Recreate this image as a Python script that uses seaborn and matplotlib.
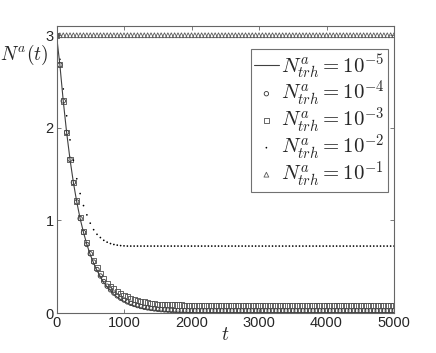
import numpy as np
import pandas as pd
import matplotlib
matplotlib.use('Agg')
import matplotlib.pyplot as plt
import seaborn as sns

# tempo (amostrado a cada 50)
t = np.arange(0, 5001, 50)

# N^a(t), para cada limiar
n_1e5 = [3.00, 2.68, 2.29, 1.95, 1.66, 1.41, 1.20, 1.02, 0.87, 0.74, 0.63, 0.54, 0.46, 0.39,
         0.33, 0.28, 0.24, 0.20, 0.17, 0.145, 0.125, 0.105, 0.09, 0.077, 0.065, 0.055, 0.047,
         0.04, 0.034, 0.029, 0.025, 0.021, 0.018, 0.015, 0.013, 0.011, 0.009, 0.008, 0.007,
         0.006, 0.005] + [0.004] * 60
n_1e4 = [3.00, 2.68, 2.29, 1.95, 1.66, 1.41, 1.20, 1.02, 0.87, 0.74, 0.64, 0.55, 0.47, 0.40,
         0.34, 0.29, 0.25, 0.215, 0.185, 0.16, 0.14, 0.12, 0.105, 0.092, 0.08, 0.07, 0.062,
         0.055, 0.049, 0.044, 0.04, 0.036, 0.033, 0.031, 0.029, 0.027, 0.026, 0.025, 0.024,
         0.023, 0.022] + [0.022] * 60
n_1e3 = [3.00, 2.68, 2.29, 1.95, 1.66, 1.41, 1.21, 1.03, 0.88, 0.76, 0.65, 0.57, 0.49, 0.43,
         0.37, 0.32, 0.29, 0.26, 0.23, 0.21, 0.19, 0.175, 0.16, 0.147, 0.136, 0.126, 0.118,
         0.111, 0.105, 0.10, 0.096, 0.093, 0.091, 0.089, 0.088, 0.087, 0.086, 0.086, 0.085,
         0.085, 0.085] + [0.085] * 60
n_1e2 = [3.00, 2.74, 2.42, 2.13, 1.87, 1.65, 1.45, 1.29, 1.16, 1.06, 0.97, 0.90, 0.85, 0.815,
         0.785, 0.765, 0.75, 0.74, 0.733, 0.728, 0.725] + [0.723] * 80
n_1e1 = [3.00] * 101

labels = [r'$N^a_{trh} = 10^{-5}$', r'$N^a_{trh} = 10^{-4}$', r'$N^a_{trh} = 10^{-3}$',
          r'$N^a_{trh} = 10^{-2}$', r'$N^a_{trh} = 10^{-1}$']

sns.set_style('ticks')
plt.rcParams['font.family'] = ['Liberation Sans', 'DejaVu Sans']
plt.rcParams['mathtext.fontset'] = 'cm'

fig = plt.figure(figsize=(4.36, 3.53), dpi=100)
ax = fig.add_axes([0.1296, 0.1133, 0.7741, 0.8131])

df = pd.DataFrame({'t': t, 'a': n_1e5, 'b': n_1e4, 'c': n_1e3, 'd': n_1e2, 'e': n_1e1})

sns.lineplot(data=df, x='t', y='a', ax=ax, color='0.25', linewidth=0.8, label=labels[0])
sns.scatterplot(data=df, x='t', y='b', ax=ax, marker='o', s=10, facecolor='none',
                edgecolor='0.2', linewidth=0.6, label=labels[1])
sns.scatterplot(data=df, x='t', y='c', ax=ax, marker='s', s=14, facecolor='none',
                edgecolor='0.3', linewidth=0.6, label=labels[2])
sns.scatterplot(data=df, x='t', y='d', ax=ax, marker='o', s=1.5, color='black',
                edgecolor='none', label=labels[3])
sns.scatterplot(data=df, x='t', y='e', ax=ax, marker='^', s=12, facecolor='none',
                edgecolor='0.35', linewidth=0.6, label=labels[4])

ax.set_xlim(0, 5000)
ax.set_ylim(0, 3.1)
ax.set_xticks([0, 1000, 2000, 3000, 4000, 5000])
ax.set_yticks([0, 1, 2, 3])
ax.tick_params(direction='in', length=3, width=0.6, color='0.4', labelsize=10.5,
               top=True, right=True, pad=2)
for s in ax.spines.values():
    s.set_color('0.4')
    s.set_linewidth(0.8)

ax.set_xlabel(r'$t$', fontsize=14, labelpad=-2)
ax.set_ylabel(r'$N^a(t)$', fontsize=14, rotation=0, ha='center', va='center')
ax.yaxis.set_label_coords(-0.095, 0.9)

leg = ax.legend(loc='upper right', bbox_to_anchor=(0.982, 0.92), fontsize=15, frameon=True,
                fancybox=False, edgecolor='0.3', scatterpoints=1, handlelength=1.2,
                handletextpad=0.1, borderpad=0.15, labelspacing=-0.12, borderaxespad=0)
leg.get_frame().set_linewidth(0.8)

fig.savefig('out.png', dpi=100)
